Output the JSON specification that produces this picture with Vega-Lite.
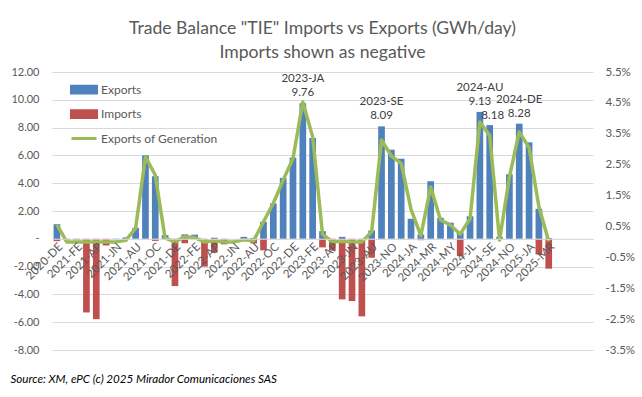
{
  "$schema": "https://vega.github.io/schema/vega-lite/v6.json",
  "width": 541,
  "height": 278,
  "autosize": {"type": "none"},
  "padding": {"left": 52, "top": 72, "right": 49, "bottom": 47},
  "background": "white",
  "title": {
    "text": ["Trade Balance \"TIE\" Imports vs Exports (GWh/day)", "Imports shown as negative"],
    "font": "Lato", "fontSize": 17.6, "fontWeight": "normal", "color": "#595959",
    "lineHeight": 24, "offset": 4, "anchor": "middle"
  },
  "config": {
    "view": {"stroke": null},
    "font": "Lato",
    "axis": {"labelFont": "Lato", "titleFont": "Lato", "labelOverlap": false},
    "legend": {"labelFont": "Lato"}
  },
  "data": {
    "values": [
      {"m": "2020-DE", "exp": 1.05, "imp": -0.17, "gen": 0.56},
      {"m": "2021-JA", "exp": 0, "imp": -0.1, "gen": 0.0},
      {"m": "2021-FE", "exp": 0, "imp": -0.1, "gen": 0.0},
      {"m": "2021-MR", "exp": 0, "imp": -5.3, "gen": 0.0},
      {"m": "2021-AP", "exp": 0, "imp": -5.78, "gen": 0.0},
      {"m": "2021-MY", "exp": 0, "imp": -0.48, "gen": 0.0},
      {"m": "2021-JN", "exp": 0.02, "imp": 0, "gen": 0.0},
      {"m": "2021-JL", "exp": 0.1, "imp": 0, "gen": 0.05},
      {"m": "2021-AU", "exp": 0.79, "imp": 0, "gen": 0.44},
      {"m": "2021-SE", "exp": 6.0, "imp": 0, "gen": 2.75},
      {"m": "2021-OC", "exp": 4.5, "imp": -0.15, "gen": 2.16},
      {"m": "2021-NO", "exp": 0.26, "imp": 0, "gen": 0.12},
      {"m": "2021-DE", "exp": 0, "imp": -3.4, "gen": 0.0},
      {"m": "2022-JA", "exp": 0.32, "imp": -0.32, "gen": 0.17},
      {"m": "2022-FE", "exp": 0.3, "imp": 0, "gen": 0.14},
      {"m": "2022-MR", "exp": 0, "imp": -2.0, "gen": 0.0},
      {"m": "2022-AP", "exp": 0.08, "imp": -1.0, "gen": 0.04},
      {"m": "2022-MY", "exp": 0, "imp": -0.4, "gen": 0.0},
      {"m": "2022-JN", "exp": 0, "imp": 0, "gen": 0.0},
      {"m": "2022-JL", "exp": 0.14, "imp": 0, "gen": 0.07},
      {"m": "2022-AU", "exp": 0.06, "imp": -0.33, "gen": 0.04},
      {"m": "2022-SE", "exp": 1.22, "imp": -0.83, "gen": 0.65},
      {"m": "2022-OC", "exp": 2.54, "imp": 0, "gen": 1.25},
      {"m": "2022-NO", "exp": 4.38, "imp": 0, "gen": 2.0},
      {"m": "2022-DE", "exp": 5.84, "imp": 0, "gen": 2.7},
      {"m": "2023-JA", "exp": 9.76, "imp": 0, "gen": 4.53},
      {"m": "2023-FE", "exp": 7.25, "imp": 0, "gen": 3.4},
      {"m": "2023-MR", "exp": 0.55, "imp": -0.62, "gen": 0.25},
      {"m": "2023-AP", "exp": 0, "imp": -0.85, "gen": 0.0},
      {"m": "2023-MY", "exp": 0.14, "imp": -4.36, "gen": 0.02},
      {"m": "2023-JN", "exp": 0, "imp": -4.48, "gen": 0.0},
      {"m": "2023-JL", "exp": 0, "imp": -5.58, "gen": 0.0},
      {"m": "2023-AU", "exp": 0.6, "imp": -1.36, "gen": 0.33},
      {"m": "2023-SE", "exp": 8.09, "imp": 0, "gen": 3.3},
      {"m": "2023-NO", "exp": 6.41, "imp": 0, "gen": 2.78},
      {"m": "2023-DE", "exp": 5.76, "imp": 0, "gen": 2.54},
      {"m": "2024-JA", "exp": 1.44, "imp": 0, "gen": 1.05},
      {"m": "2024-FE", "exp": 0.31, "imp": -0.1, "gen": 0.2},
      {"m": "2024-MR", "exp": 4.14, "imp": 0, "gen": 1.78},
      {"m": "2024-AP", "exp": 1.51, "imp": 0, "gen": 0.71},
      {"m": "2024-MY", "exp": 1.16, "imp": 0, "gen": 0.55},
      {"m": "2024-JN", "exp": 0.45, "imp": -1.25, "gen": 0.25},
      {"m": "2024-JL", "exp": 1.62, "imp": 0, "gen": 0.75},
      {"m": "2024-AU", "exp": 9.13, "imp": 0, "gen": 3.88},
      {"m": "2024-SE", "exp": 8.18, "imp": 0, "gen": 3.44},
      {"m": "2024-OC", "exp": 0.14, "imp": 0, "gen": 0.06},
      {"m": "2024-NO", "exp": 4.64, "imp": 0, "gen": 2.1},
      {"m": "2024-DE", "exp": 8.28, "imp": 0, "gen": 3.56},
      {"m": "2025-JA", "exp": 6.94, "imp": 0, "gen": 3.05},
      {"m": "2025-FE", "exp": 2.16, "imp": -1.13, "gen": 1.14},
      {"m": "2025-MR", "exp": 0.05, "imp": -2.15, "gen": 0.02}
    ]
  },
  "encoding": {
    "x": {
      "field": "m", "type": "nominal", "sort": null,
      "scale": {
        "domain": ["2020-DE","2021-JA","2021-FE","2021-MR","2021-AP","2021-MY","2021-JN","2021-JL","2021-AU","2021-SE","2021-OC","2021-NO","2021-DE","2022-JA","2022-FE","2022-MR","2022-AP","2022-MY","2022-JN","2022-JL","2022-AU","2022-SE","2022-OC","2022-NO","2022-DE","2023-JA","2023-FE","2023-MR","2023-AP","2023-MY","2023-JN","2023-JL","2023-AU","2023-SE","2023-NO","2023-DE","2024-JA","2024-FE","2024-MR","2024-AP","2024-MY","2024-JN","2024-JL","2024-AU","2024-SE","2024-OC","2024-NO","2024-DE","2025-JA","2025-FE","2025-MR","2025-AP","2025-MY","2025-JN","2025-JL"],
        "paddingInner": 0, "paddingOuter": 0
      },
      "axis": {
        "values": ["2020-DE","2021-FE","2021-AP","2021-JN","2021-AU","2021-OC","2021-DE","2022-FE","2022-AP","2022-JN","2022-AU","2022-OC","2022-DE","2023-FE","2023-AP","2023-JN","2023-AU","2023-NO","2024-JA","2024-MR","2024-MY","2024-JL","2024-SE","2024-NO","2025-JA","2025-MR"],
        "offset": -111.2,
        "zindex": 1,
        "labelAngle": -45, "labelFontSize": 11.5, "labelColor": "#595959", "labelPadding": 2,
        "labelOverlap": false,
        "ticks": false, "domain": true, "domainColor": "#d9d9d9", "grid": false,
        "title": "Source: XM, ePC (c) 2025 Mirador Comunicaciones SAS",
        "titleX": -42, "titleY": 141, "titleAlign": "left", "titleAnchor": "start",
        "titleBaseline": "middle", "titleFontStyle": "italic", "titleFontWeight": "normal",
        "titleFontSize": 11.6, "titleColor": "#000000"
      }
    }
  },
  "layer": [
    {
      "mark": {"type": "bar", "width": {"band": 0.68}},
      "encoding": {
        "y": {
          "field": "exp", "type": "quantitative",
          "scale": {"domain": [-8, 12], "nice": false, "zero": false},
          "axis": {
            "orient": "left", "title": null, "values": [-8, -6, -4, -2, 0, 2, 4, 6, 8, 10, 12],
            "labelExpr": "datum.value == 0 ? '-' : (datum.value < 0 ? '-' : '') + format(abs(datum.value), '.2f')",
            "labelOverlap": false,
            "grid": true, "gridColor": "#d9d9d9", "domain": false, "ticks": false,
            "labelPadding": 13, "labelFontSize": 11, "labelColor": "#595959",
            "encode": {"labels": {"update": {"dx": {"signal": "datum.value == 0 ? -5 : 0"}}}}
          }
        },
        "color": {
          "datum": "Exports", "type": "nominal",
          "scale": {"domain": ["Exports", "Imports", "Exports of Generation"], "range": ["#4F81BD", "#C0504D", "#9BBB59"]},
          "legend": {
            "title": null, "orient": "none", "direction": "vertical",
            "legendX": 18, "legendY": 3.5, "padding": 0,
            "symbolSize": 625, "rowPadding": 0.5, "labelOffset": 3,
            "labelFontSize": 12, "labelColor": "#595959",
            "encode": {
              "symbols": {
                "update": {
                  "shape": {"signal": "datum.value === 'Exports of Generation' ? 'stroke' : 'M-1,-0.27H1V0.27H-1Z'"},
                  "fill": {"signal": "datum.value === 'Exports' ? '#4F81BD' : datum.value === 'Imports' ? '#C0504D' : 'transparent'"},
                  "stroke": {"signal": "datum.value === 'Exports of Generation' ? '#9BBB59' : 'transparent'"},
                  "strokeWidth": {"value": 3},
                  "fillOpacity": {"value": 1},
                  "opacity": {"value": 1}
                }
              }
            }
          }
        }
      }
    },
    {
      "mark": {"type": "bar", "width": {"band": 0.68}},
      "encoding": {
        "y": {"field": "imp", "type": "quantitative", "scale": {"domain": [-8, 12], "nice": false, "zero": false}, "axis": null},
        "color": {"datum": "Imports", "type": "nominal"}
      }
    },
    {
      "data": {
        "values": [
          {"m": "2023-JA", "v": 9.76, "lab": "2023-JA"},
          {"m": "2023-SE", "v": 8.09, "lab": "2023-SE"},
          {"m": "2024-AU", "v": 9.13, "lab": "2024-AU"},
          {"m": "2024-DE", "v": 8.28, "lab": "2024-DE"}
        ]
      },
      "mark": {"type": "text", "dy": -10, "fontSize": 11.5, "color": "#404040", "font": "Lato"},
      "encoding": {
        "y": {"field": "v", "type": "quantitative", "scale": {"domain": [-8, 12], "nice": false, "zero": false}, "axis": null},
        "text": {"field": "v", "type": "quantitative", "format": ".2f"}
      }
    },
    {
      "data": {
        "values": [
          {"m": "2023-JA", "v": 9.76, "lab": "2023-JA"},
          {"m": "2023-SE", "v": 8.09, "lab": "2023-SE"},
          {"m": "2024-AU", "v": 9.13, "lab": "2024-AU"},
          {"m": "2024-DE", "v": 8.28, "lab": "2024-DE"}
        ]
      },
      "mark": {"type": "text", "dy": -24, "fontSize": 11.5, "color": "#404040", "font": "Lato"},
      "encoding": {
        "y": {"field": "v", "type": "quantitative", "scale": {"domain": [-8, 12], "nice": false, "zero": false}, "axis": null},
        "text": {"field": "lab", "type": "nominal"}
      }
    },
    {
      "data": {"values": [{"m": "2024-SE", "v": 8.18}]},
      "mark": {"type": "text", "dy": -9, "dx": 3, "fontSize": 11.5, "color": "#404040", "font": "Lato"},
      "encoding": {
        "y": {"field": "v", "type": "quantitative", "scale": {"domain": [-8, 12], "nice": false, "zero": false}, "axis": null},
        "text": {"field": "v", "type": "quantitative", "format": ".2f"}
      }
    },
    {
      "mark": {"type": "line", "strokeWidth": 3.5, "strokeJoin": "round"},
      "encoding": {
        "y": {
          "field": "gen", "type": "quantitative",
          "scale": {"domain": [-3.5, 5.5], "nice": false, "zero": false},
          "axis": {
            "orient": "right", "title": null,
            "values": [-3.5, -2.5, -1.5, -0.5, 0.5, 1.5, 2.5, 3.5, 4.5, 5.5],
            "labelExpr": "(datum.value < 0 ? '-' : '') + format(abs(datum.value), '.1f') + '%'",
            "labelOverlap": false,
            "grid": false, "domain": false, "ticks": false,
            "labelPadding": 12, "labelFontSize": 11.5, "labelColor": "#595959"
          }
        },
        "color": {"datum": "Exports of Generation", "type": "nominal"}
      }
    }
  ],
  "resolve": {"scale": {"y": "independent"}, "axis": {"y": "independent"}}
}
